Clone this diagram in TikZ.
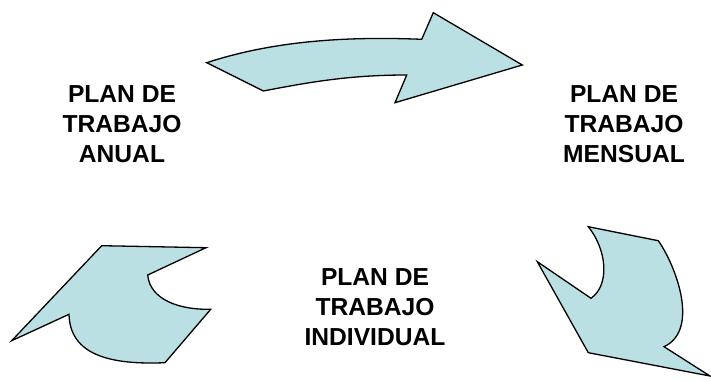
\documentclass[tikz,border=0pt]{standalone}
\usepackage{fontspec}
\setmainfont{Liberation Sans}
\definecolor{arrowfill}{RGB}{187,224,227}
\begin{document}
\begin{tikzpicture}[x=1pt,y=-1pt,
  lbl/.style={font=\fontsize{24.6}{30}\selectfont\bfseries, align=center, inner sep=0pt, text=black},
  arrowshape/.style={fill=arrowfill, draw=black, line width=1.3pt, line join=miter}]
\useasboundingbox (0,0) rectangle (711,382);
% top arrow
\path[arrowshape] (206.7,62.7) -- (263.3,91) .. controls (310,82) and (350,75) .. (406.7,75)
  -- (395,102.7) -- (522.3,65) -- (433.3,12.7) -- (421.7,39.3)
  .. controls (340,36) and (270,42) .. (206.7,62.7) -- cycle;
% bottom right arrow
\path[arrowshape] (588.3,226.7) -- (658.3,240.7) .. controls (676,266) and (700,330) .. (664,346.7)
  -- (710,376) -- (588.3,352.7) -- (537.3,261.7) -- (591,298.3)
  .. controls (610,285) and (607,250) .. (588.3,226.7) -- cycle;
% bottom left arrow
\path[arrowshape] (101.7,245.7) -- (206,247.7) -- (147.7,275) .. controls (150,300) and (180,310) .. (210.7,309.3)
  -- (165,362.7) .. controls (110,365) and (70,355) .. (69,314.3) -- (11.7,340.7) -- cycle;
% labels
\node[lbl] (anual) at (122,124.5) {PLAN DE\\TRABAJO\\ANUAL};
\node[lbl] (mensual) at (624,124.5) {PLAN DE\\TRABAJO\\MENSUAL};
\node[lbl] (individual) at (375,307.5) {PLAN DE\\TRABAJO\\INDIVIDUAL};
\end{tikzpicture}
\end{document}
